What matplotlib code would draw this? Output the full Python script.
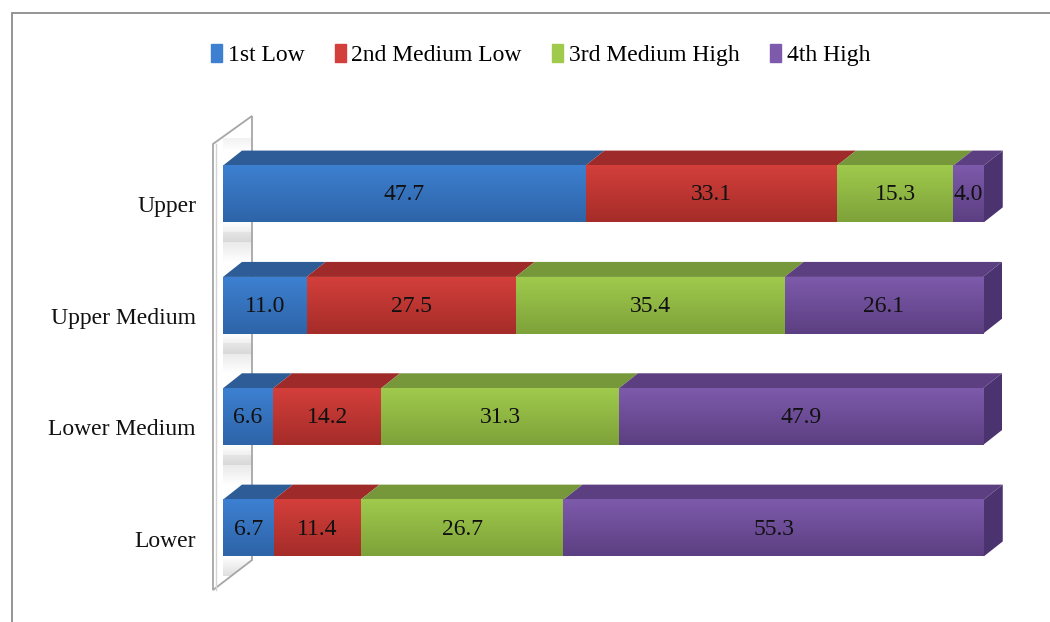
"""
3D-look 100% stacked horizontal bar chart (Excel style) by income group
"""
import numpy as np
import matplotlib.pyplot as plt
from matplotlib.patches import Polygon, Rectangle
from matplotlib.colors import LinearSegmentedColormap

# data
groups = ["Lower", "Lower Medium", "Upper Medium", "Upper"]
series = ["1st Low", "2nd Medium Low", "3rd Medium High", "4th High"]
low = [6.7, 6.6, 11.0, 47.7]
medium_low = [11.4, 14.2, 27.5, 33.1]
medium_high = [26.7, 31.3, 35.4, 15.3]
high = [55.3, 47.9, 26.1, 4.0]
values = [low, medium_low, medium_high, high]

# colours: front top, front bottom, top face, side face
front_top = ["#3d80d1", "#d33f3b", "#9fca4c", "#7d5aab"]
front_bot = ["#2e64a8", "#a52c29", "#7ea23a", "#5c3f82"]
top_face = ["#2d5c96", "#9e2b29", "#76983a", "#5c3f80"]
side_face = ["#2a4f80", "#842422", "#62802f", "#4b3370"]

plt.rcParams["font.family"] = ["Liberation Serif", "DejaVu Serif"]

fig = plt.figure(figsize=(10.5, 6.22), dpi=100)
W, H = 1050, 622

# axes placed so 0..100 spans the bar front faces
x0_px, x1_px = 223, 983
y_top_px, y_bot_px = 138.3, 583.7
ax = fig.add_axes([x0_px / W, (H - y_bot_px) / H,
                   (x1_px - x0_px) / W, (y_bot_px - y_top_px) / H])
ax.set_xlim(0, 100)
ax.set_ylim(-0.5, 3.5)
ax.set_axis_off()

px_x = 100 / (x1_px - x0_px)          # data units per pixel, x
px_y = 4 / (y_bot_px - y_top_px)      # data units per pixel, y
dx, dy = 19 * px_x, 15 * px_y         # bar depth
bar_h = 0.51

# the side wall behind the category labels
wx0, wx1 = -10 * px_x, 29 * px_x
wall_pts = [(wx0, 3 + 50 * px_y), (wx1, 3 + 78 * px_y),
            (wx1, -32 * px_y), (wx0, -62 * px_y)]
wall = Polygon(wall_pts, closed=True, facecolor="white", edgecolor="none",
               clip_on=False, zorder=1)
ax.add_patch(wall)
ax.add_patch(Polygon(wall_pts, closed=True, fill=False, edgecolor="#a6a6a6",
                     lw=1.3, clip_on=False, zorder=1.4))
ax.plot([wx0 + 0.35, wx0 + 0.35], [3 + 50 * px_y, -62 * px_y],
        color="#d4d4d4", lw=1, clip_on=False, zorder=1.4)

# soft shadows the bars cast on the wall
shade = LinearSegmentedColormap.from_list("shade", ["#ffffff", "#d2d2d2"])
sgrad = np.linspace(0, 1, 32).reshape(-1, 1)
for yy in np.arange(len(groups)):
    top = yy + bar_h / 2 + dy
    for y_lo, y_hi, org in [(top, top + 30 * px_y, "lower"),
                            (yy - bar_h / 2 - 20 * px_y, yy - bar_h / 2,
                             "upper")]:
        im = ax.imshow(sgrad, cmap=shade, aspect="auto", zorder=1.2,
                       extent=(wx0, wx1, y_lo, y_hi), origin=org, alpha=0.7)
        im.set_clip_path(wall)
        im.set_clip_box(None)

y = np.arange(len(groups))
left = np.zeros(len(groups))
grad = np.linspace(0, 1, 64).reshape(-1, 1)
for i, (name, vals) in enumerate(zip(series, values)):
    vals = np.array(vals)
    bars = ax.barh(y, vals, left=left, height=bar_h, color=front_top[i],
                   edgecolor="none", label=name, zorder=3, clip_on=False)
    cmap = LinearSegmentedColormap.from_list("g%d" % i,
                                             [front_top[i], front_bot[i]])
    for b, l, v, yy in zip(bars, left, vals, y):
        im = ax.imshow(grad, cmap=cmap, aspect="auto", zorder=3.5,
                       extent=(l, l + v, yy - bar_h / 2, yy + bar_h / 2),
                       origin="upper", clip_on=False)
        im.set_clip_path(b)
        top = yy + bar_h / 2
        ax.add_patch(Polygon([(l, top), (l + v, top), (l + v + dx, top + dy),
                              (l + dx, top + dy)], closed=True,
                             facecolor=top_face[i], edgecolor="none",
                             zorder=2.5, clip_on=False))
        ax.text(l + v / 2, yy - 1 * px_y, "%.1f" % v, ha="center",
                va="center", fontsize=17, color="#111111", zorder=5)
    left = left + vals

# right-hand side faces of the last segments
for yy, l in zip(y, left):
    bot, top = yy - bar_h / 2, yy + bar_h / 2
    ax.add_patch(Polygon([(l, bot), (l, top), (l + dx, top + dy),
                          (l + dx, bot + dy)], closed=True,
                         facecolor=side_face[3], edgecolor="none",
                         zorder=2.5, clip_on=False))
ax.set_ylim(-0.5, 3.5)
ax.set_xlim(0, 100)

# category labels
for yy, g in zip(y, groups):
    ax.text(-27 * px_x, yy - 13 * px_y, g, ha="right", va="center",
            fontsize=17, color="#111111")

# legend
leg = fig.legend(loc="center", bbox_to_anchor=(0.515, 1 - 55 / H), ncol=4,
                 frameon=False, fontsize=17, handlelength=0.45,
                 handleheight=0.8, handletextpad=0.25, columnspacing=1.3)
for h, c in zip(leg.legend_handles, front_top):
    h.set_color(c)

# chart border, cut off at right and bottom
fig.patches.append(Rectangle((12 / W, -0.1), 1.2, 1.1 - 13 / H,
                             transform=fig.transFigure, fill=False,
                             edgecolor="#8c8c8c", lw=1.3))

fig.savefig("out.png", dpi=100)
